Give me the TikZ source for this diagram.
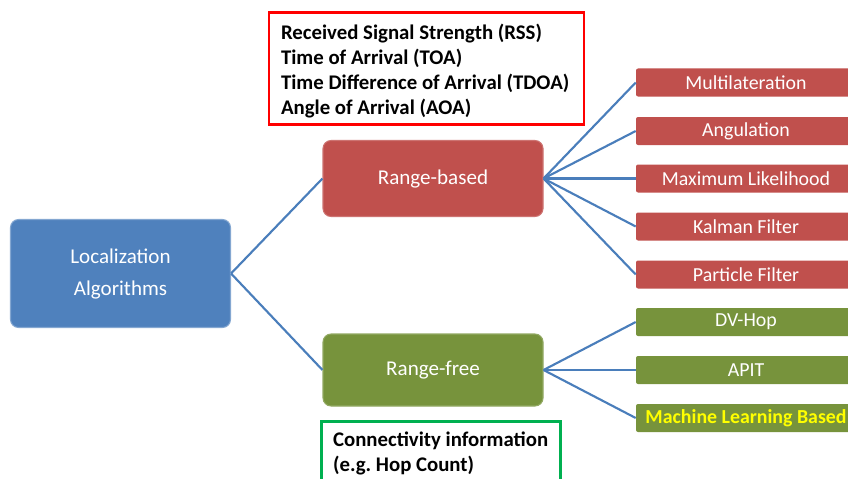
\documentclass[tikz,border=0pt]{standalone}
\usepackage{fontspec}
\setmainfont{Carlito}
\definecolor{bluef}{HTML}{4F81BD}
\definecolor{redf}{HTML}{C0504D}
\definecolor{greenf}{HTML}{77933C}
\definecolor{linec}{HTML}{4A7EBB}
\definecolor{noteRed}{HTML}{FF0000}
\definecolor{noteGreen}{HTML}{00B050}
\definecolor{mlyellow}{HTML}{FFFF00}
\begin{document}
\begin{tikzpicture}[x=0.75pt,y=-0.75pt,
  mainbox/.style={rounded corners=6pt, text=white, font=\fontsize{15.8}{18}\selectfont, align=center, inner sep=0pt},
  leafbox/.style={rounded corners=1.5pt, minimum width=165pt, minimum height=21pt, inner sep=0pt, text=white, font=\fontsize{14.9}{16}\selectfont},
  conn/.style={draw=linec, line width=1.6pt},
  notebox/.style={line width=1.6pt, align=left, anchor=north west, inner sep=0pt, font=\fontsize{15.6}{18.8}\selectfont\bfseries, text=black}
]
\useasboundingbox (0,0) rectangle (848,478);
\clip (0,0) rectangle (848,478);
% main boxes
\node[mainbox, fill=bluef, draw=bluef!70!white, line width=0.8pt, minimum width=165pt, minimum height=81pt] (loc) at (120.5,273.5) {Localization\\[6pt]Algorithms};
\node[mainbox, fill=redf, draw=redf!80!white, line width=0.8pt, minimum width=165pt, minimum height=57pt] (rb) at (433,178.5) {Range-based};
\node[mainbox, fill=greenf, draw=greenf!80!white, line width=0.8pt, minimum width=165pt, minimum height=54pt] (rf) at (433,370) {Range-free};
% leaves
\node[leafbox, fill=redf] (m1) at (746,82.5) {Multilateration};
\node[leafbox, fill=redf] (m2) at (746,131) {Angulation};
\node[leafbox, fill=redf] (m3) at (746,178.5) {Maximum Likelihood};
\node[leafbox, fill=redf] (m4) at (746,226.5) {Kalman Filter};
\node[leafbox, fill=redf] (m5) at (746,274.5) {Particle Filter};
\node[leafbox, fill=greenf] (g1) at (746,322) {DV-Hop};
\node[leafbox, fill=greenf] (g2) at (746,370) {APIT};
\node[leafbox, fill=greenf, text=mlyellow, font=\fontsize{14.9}{16}\selectfont\bfseries] (g3) at (746,418) {Machine Learning Based};
% connectors
\draw[conn] (loc.east) -- (rb.west);
\draw[conn] (loc.east) -- (rf.west);
\foreach \t in {m1,m2,m3,m4,m5} \draw[conn] (rb.east) -- (\t.west);
\foreach \t in {g1,g2,g3} \draw[conn] (rf.east) -- (\t.west);
% notes
\draw[noteRed, line width=1.6pt] (269,12.5) rectangle (584,124.5);
\node[notebox] (n1) at (280,22.5) {Received Signal Strength (RSS)\\Time of Arrival (TOA)\\Time Difference of Arrival (TDOA)\\Angle of Arrival (AOA)};
\draw[noteGreen, line width=1.6pt] (321.5,421.5) rectangle (560.5,495);
\node[notebox] (n2) at (332,430.5) {Connectivity information\\(e.g.\ Hop Count)};
\end{tikzpicture}
\end{document}
